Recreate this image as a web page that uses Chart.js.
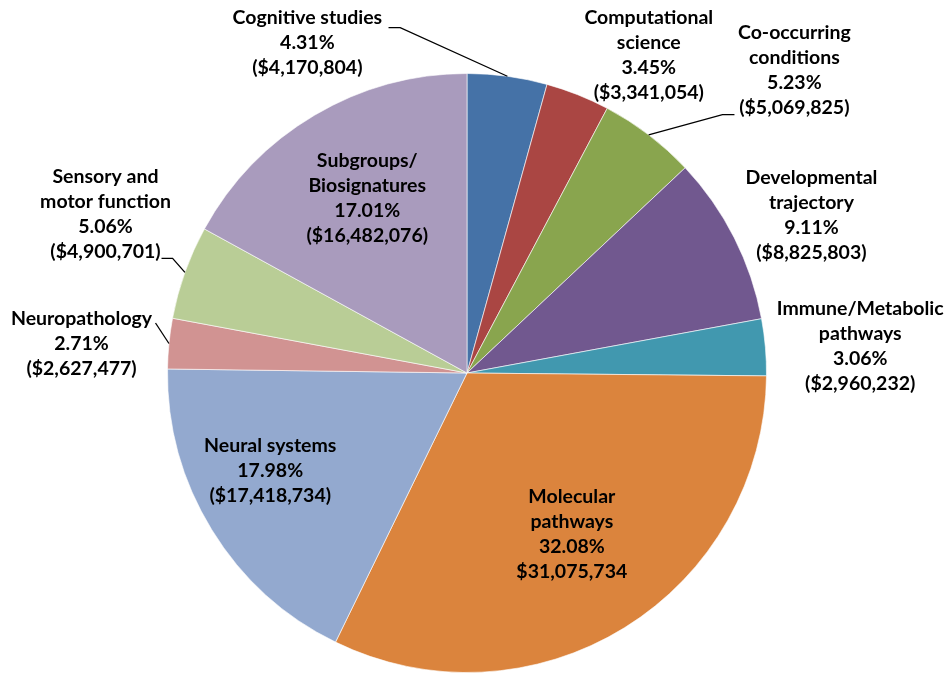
<!DOCTYPE html>
<html>
<head>
<meta charset="utf-8">
<script src="https://cdn.jsdelivr.net/npm/chart.js@4/dist/chart.umd.min.js"></script>
<style>
  html, body { margin: 0; padding: 0; background: #fff; }
  #wrap { width: 951px; height: 674px; }
</style>
</head>
<body>
<div id="wrap"><canvas id="pie" width="951" height="674"></canvas></div>
<script>
// slice names (line breaks as in the chart labels)
const categories = [
    ['Cognitive studies'],
    ['Computational', 'science'],
    ['Co-occurring', 'conditions'],
    ['Developmental', 'trajectory'],
    ['Immune/Metabolic', 'pathways'],
    ['Molecular', 'pathways'],
    ['Neural systems'],
    ['Neuropathology'],
    ['Sensory and', 'motor function'],
    ['Subgroups/', 'Biosignatures']
];
const amounts = [4170804, 3341054, 5069825, 8825803, 2960232, 31075734, 17418734, 2627477, 4900701, 16482076];
const colors = ['#4572A7', '#AA4643', '#89A54E', '#71588F', '#4198AF', '#DB843D', '#93A9CF', '#D19392', '#B9CD96', '#A99BBD'];

// label placement, in units of the pie radius from its centre
// x = text centre, y = first line; knee/end = leader line points
const labelLayout = [
    { x: -0.533, y: -1.187, knee: [-0.223, -1.153], end: [-0.262, -1.153] },
    { x: 0.607, y: -1.187 },
    { x: 1.093, y: -1.137, knee: [0.853, -0.863], end: [0.893, -0.863] },
    { x: 1.15, y: -0.653 },
    { x: 1.313, y: -0.213 },
    { x: 0.35, y: 0.413, noParen: true },
    { x: -0.657, y: 0.243 },
    { x: -1.287, y: -0.18, knee: [-1.04, -0.167], end: [-1.04, -0.167] },
    { x: -1.207, y: -0.657, knee: [-0.983, -0.383], end: [-1.02, -0.383] },
    { x: -0.333, y: -0.71 }
];

const total = amounts.reduce((a, b) => a + b, 0);
const money = v => '$' + v.toLocaleString('en-US');

const pieLabels = {
    id: 'pieLabels',
    afterDatasetsDraw(chart) {
        const ctx = chart.ctx;
        const arcs = chart.getDatasetMeta(0).data;
        ctx.save();
        ctx.font = 'bold 19.5px Lato, "Open Sans", sans-serif';
        ctx.fillStyle = '#000';
        ctx.textAlign = 'center';
        ctx.textBaseline = 'middle';
        arcs.forEach((arc, i) => {
            const { x, y, outerRadius, startAngle, endAngle } = arc.getProps(['x', 'y', 'outerRadius', 'startAngle', 'endAngle'], true);
            const lay = labelLayout[i];
            const pct = (amounts[i] / total * 100).toFixed(2) + '%';
            const amt = lay.noParen ? money(amounts[i]) : '(' + money(amounts[i]) + ')';
            const lines = [...categories[i], pct, amt];
            const tx = x + lay.x * outerRadius;
            const ty = y + lay.y * outerRadius;
            lines.forEach((ln, k) => ctx.fillText(ln, tx, ty + k * 25));

            if (lay.knee) {
                const mid = (startAngle + endAngle) / 2;
                ctx.beginPath();
                ctx.strokeStyle = '#000';
                ctx.lineWidth = 1.3;
                ctx.moveTo(x + Math.cos(mid) * outerRadius, y + Math.sin(mid) * outerRadius);
                ctx.lineTo(x + lay.knee[0] * outerRadius, y + lay.knee[1] * outerRadius);
                ctx.lineTo(x + lay.end[0] * outerRadius, y + lay.end[1] * outerRadius);
                ctx.stroke();
            }
        });
        ctx.restore();
    }
};

new Chart(document.getElementById('pie'), {
    type: 'pie',
    data: {
        labels: categories.map(c => c.join(' ')),
        datasets: [{
            data: amounts,
            backgroundColor: colors,
            borderColor: 'rgba(255,255,255,0.6)',
            borderWidth: 1
        }]
    },
    options: {
        responsive: false,
        animation: false,
        devicePixelRatio: 1,
        layout: { padding: { left: 167, right: 184, top: 73, bottom: 1 } },
        plugins: {
            legend: { display: false },
            tooltip: { enabled: false }
        }
    },
    plugins: [pieLabels]
});
</script>
</body>
</html>
